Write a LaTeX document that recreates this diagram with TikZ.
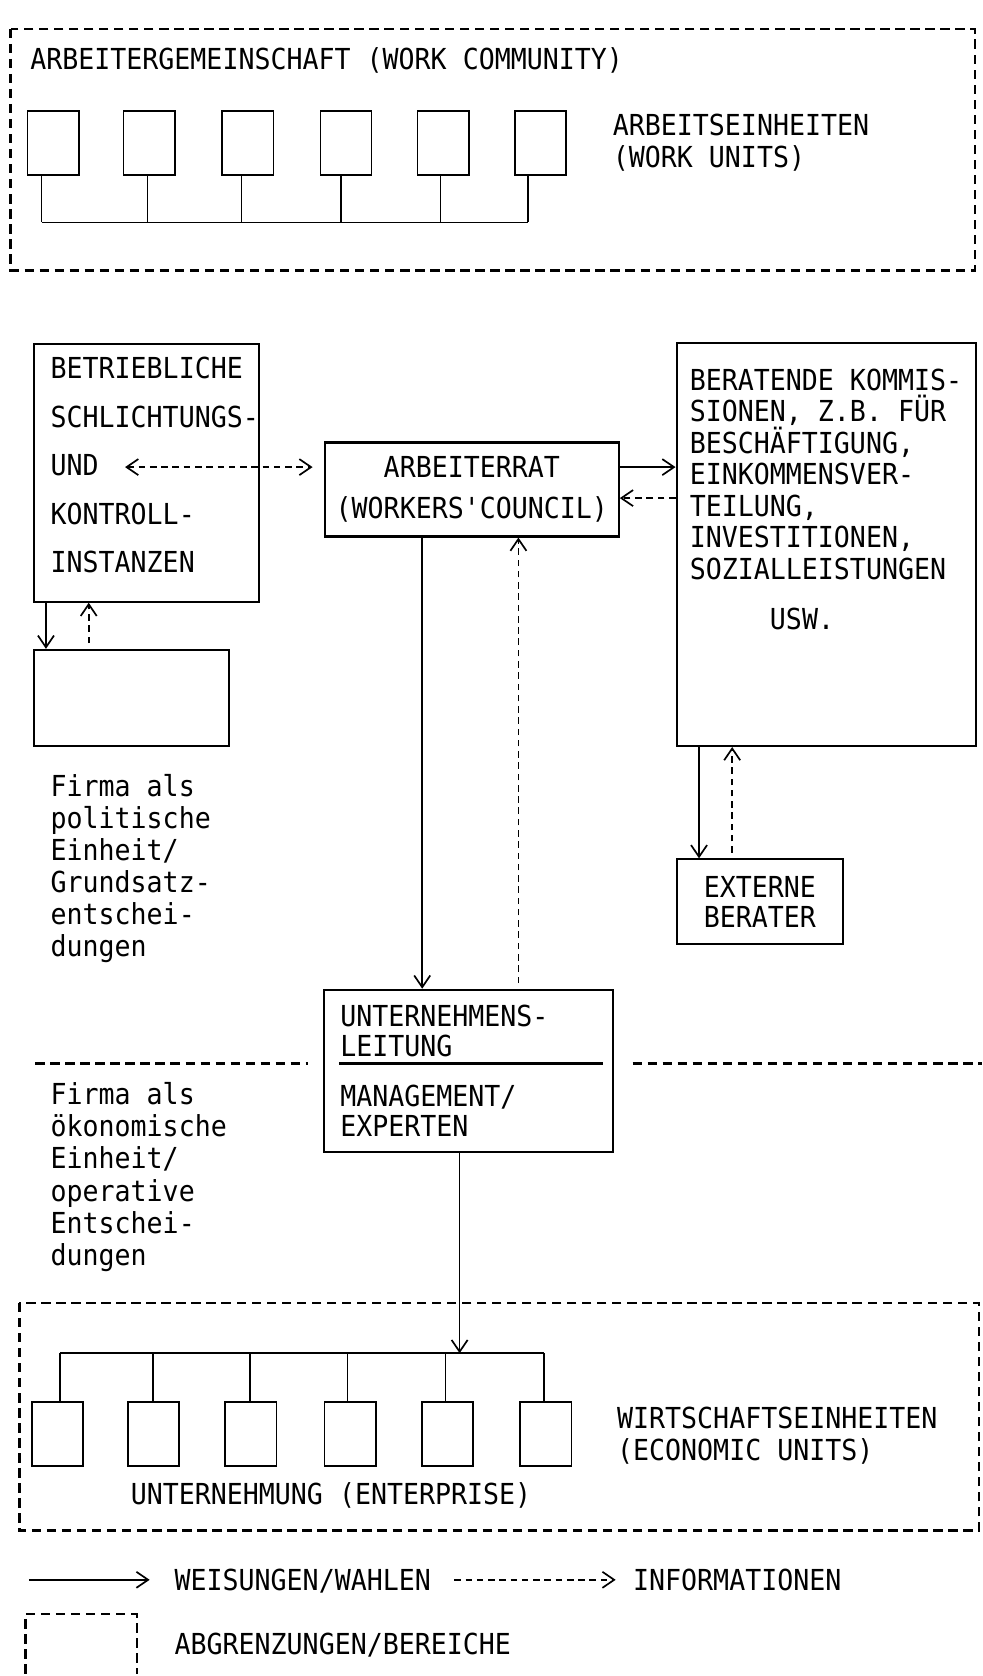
\documentclass[tikz,border=0pt]{standalone}
\usepackage{fontspec}
\setmonofont[FakeStretch=0.92]{DejaVu Sans Mono}
\usetikzlibrary{arrows.meta}

\begin{document}
\begin{tikzpicture}[x=0.02cm, y=-0.02cm,
    >={Straight Barb[length=2.2mm, width=3mm]},
    tw/.style={font=\ttfamily\fontsize{15.4}{18}\selectfont},
    txt/.style={tw, inner sep=0, anchor=base west},
    region/.style={line width=1.4pt, dash pattern=on 5pt off 3pt},
    unit/.style={draw, line width=0.8pt, minimum width=0.96cm, minimum height=1.2cm,
                 inner sep=0, anchor=north west},
    box/.style={draw, line width=1.1pt, inner sep=0, anchor=north west},
    link/.style={line width=0.8pt},
    arr/.style={->, line width=0.9pt},
    info/.style={arr, dash pattern=on 3.5pt off 2.5pt}]
  \useasboundingbox (0,0) rectangle (919,1568);

  % work community
  \draw[region] (10,27) rectangle (912,253);
  \node[txt] (agtitle) at (28,65) {ARBEITERGEMEINSCHAFT (WORK COMMUNITY)};
  \foreach \x [count=\i] in {25,115,207,299,390,481}
    \node[unit] (wu\i) at (\x,103) {};
  \foreach \s [count=\i] in {39,138,226,319,412,494}{
    \coordinate (wb\i) at (\s,208);
    \draw[link] (wu\i.south -| wb\i) -- (wb\i);
  }
  \draw[link] (wb1) -- (wb6);
  \node[txt] (wutext) at (573,127) {ARBEITSEINHEITEN};
  \node[txt] (wuengl) at (573,157) {(WORK UNITS)};

  % political level
  \node[box, minimum width=4.2cm, minimum height=4.82cm] (bs) at (31,321) {};
  \foreach \t [count=\i from 0] in {BETRIEBLICHE, SCHLICHTUNGS-, UND, KONTROLL-, INSTANZEN}
    \node[txt] (bst\i) at (47,354+45.5*\i) {\t};
  \node[box, minimum width=3.64cm, minimum height=1.8cm] (pb) at (31,607) {};
  \node[box, minimum width=5.5cm, minimum height=1.76cm, align=center,
        font=\ttfamily\fontsize{15.4}{21.6}\selectfont] (ar) at (303,413)
        {ARBEITERRAT\\(WORKERS'COUNCIL)};
  \node[box, minimum width=5.6cm, minimum height=7.54cm] (bk) at (632,320) {};
  \foreach \t [count=\i from 0] in {BERATENDE KOMMIS-, {SIONEN, Z.B. FÜR}, {BESCHÄFTIGUNG,},
      EINKOMMENSVER-, {TEILUNG,}, {INVESTITIONEN,}, SOZIALLEISTUNGEN}
    \node[txt] (bkt\i) at (645,365+29.5*\i) {\t};
  \node[txt] (usw) at (720,589) {USW.};
  \node[box, minimum width=3.12cm, minimum height=1.58cm, align=center,
        font=\ttfamily\fontsize{15.4}{15.9}\selectfont] (ext) at (632,803)
        {EXTERNE\\BERATER};

  \coordinate (bsdown) at (43,0);
  \coordinate (bsup) at (83,0);
  \draw[arr] (bs.south -| bsdown) -- (pb.north -| bsdown);
  \draw[info, shorten <=3pt] (pb.north -| bsup) -- (bs.south -| bsup);
  \coordinate (und) at (117,437);
  \draw[info, <->, shorten >=6pt] (und) -- (und -| ar.west);
  \coordinate (toberat) at (0,437);
  \coordinate (fromberat) at (0,466);
  \draw[arr] (ar.east |- toberat) -- (bk.west |- toberat);
  \draw[info] (bk.west |- fromberat) -- (ar.east |- fromberat);
  \coordinate (extdown) at (654,0);
  \coordinate (extup) at (685,0);
  \draw[arr] (bk.south -| extdown) -- (ext.north -| extdown);
  \draw[info, shorten <=3pt] (ext.north -| extup) -- (bk.south -| extup);

  \foreach \t [count=\i from 0] in {Firma als, politische, Einheit/, Grundsatz-, entschei-, dungen}
    \node[txt] (pol\i) at (47,745+30*\i) {\t};

  % management
  \node[box, minimum width=5.42cm, minimum height=3.04cm] (ul) at (302,925) {};
  \foreach \t [count=\i from 0] in {UNTERNEHMENS-, LEITUNG}
    \node[txt] (ult\i) at (318,960+28*\i) {\t};
  \foreach \t [count=\i from 0] in {MANAGEMENT/, EXPERTEN}
    \node[txt] (mgt\i) at (318,1035+28*\i) {\t};
  \coordinate (div) at (0,995);
  \draw[line width=1.3pt] ([xshift=0.3cm]ul.west |- div) -- ([xshift=-0.22cm]ul.east |- div);
  \coordinate (cmd) at (395,0);
  \coordinate (inf) at (485,0);
  \draw[arr] (ar.south -| cmd) -- (ul.north -| cmd);
  \draw[info, shorten <=3pt] (ul.north -| inf) -- (ar.south -| inf);

  % boundary political / economic
  \coordinate (sepl) at (33,995);
  \coordinate (sepr) at (919,995);
  \draw[region] (sepl) -- ([xshift=-0.28cm]ul.west |- sepl);
  \draw[region] ([xshift=0.34cm]ul.east |- sepr) -- (sepr);

  \foreach \t [count=\i from 0] in {Firma als, ökonomische, Einheit/, operative, Entschei-, dungen}
    \node[txt] (oek\i) at (47,1033+30.2*\i) {\t};

  % enterprise
  \draw[region] (18,1219) rectangle (916,1432);
  \foreach \x [count=\i] in {29,119,210,303,394,486}
    \node[unit] (ec\i) at (\x,1311) {};
  \foreach \s [count=\i] in {56,143,234,325,417,509}{
    \coordinate (eb\i) at (\s,1266);
    \draw[link] (eb\i) -- (ec\i.north -| eb\i);
  }
  \draw[link] (eb1) -- (eb6);
  \coordinate (ea) at (430,1266);
  \draw[arr] (ul.south -| ea) -- (ea);
  \node[txt] (ectext) at (577,1336) {WIRTSCHAFTSEINHEITEN};
  \node[txt] (ecengl) at (577,1366) {(ECONOMIC UNITS)};
  \node[txt] (entr) at (122,1408) {UNTERNEHMUNG (ENTERPRISE)};

  % legend
  \coordinate (lga) at (27,1478);
  \coordinate (lgb) at (140,1478);
  \coordinate (lgc) at (425,1478);
  \coordinate (lgd) at (576,1478);
  \draw[arr] (lga) -- (lgb);
  \node[txt] (lgweis) at (163,1488) {WEISUNGEN/WAHLEN};
  \draw[info] (lgc) -- (lgd);
  \node[txt] (lginfo) at (592,1488) {INFORMATIONEN};
  \draw[region] (24,1566) -- (24,1510) -- (128,1510) -- (128,1566);
  \node[txt] (lgber) at (163,1548) {ABGRENZUNGEN/BEREICHE};
\end{tikzpicture}
\end{document}
